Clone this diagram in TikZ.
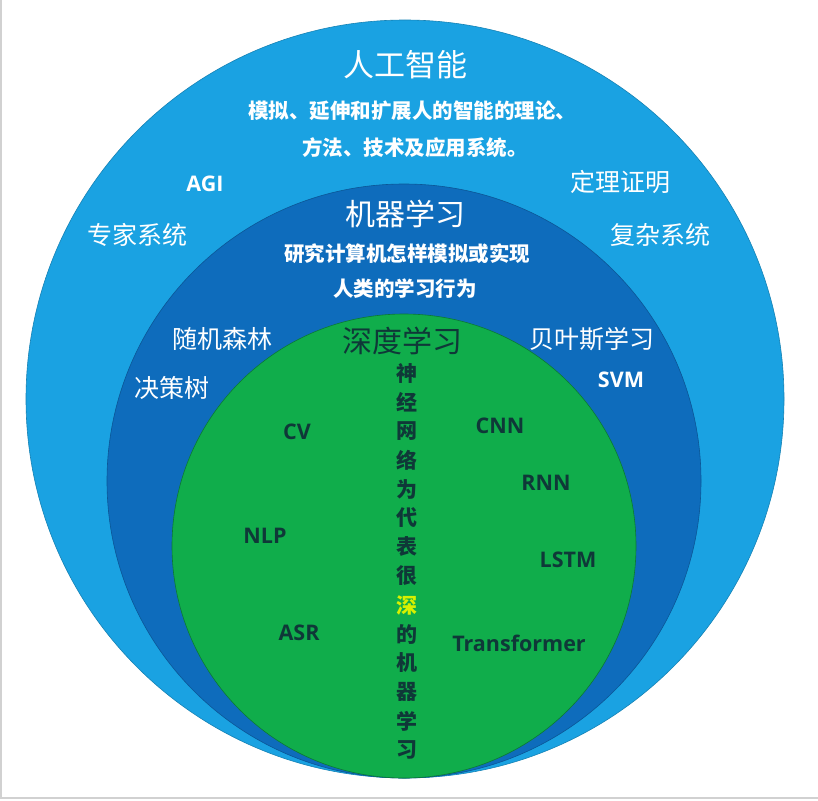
\documentclass[tikz,border=0pt]{standalone}
\usepackage{fontspec}
\newfontfamily\cjk{Noto Sans CJK SC}
\newfontfamily\latin{Open Sans}
\usetikzlibrary{backgrounds}
\definecolor{bleuclair}{HTML}{1AA2E2}
\definecolor{bleufonce}{HTML}{0E6CBC}
\definecolor{vert}{HTML}{10AD4B}
\definecolor{sombre}{HTML}{0F3838}
\definecolor{jaune}{HTML}{D8F000}
\tikzset{%
  cercle/.style={circle,inner sep=0pt,minimum size=#1},%
  titre/.style={font=\cjk\fontsize{31}{31}\selectfont,text=white},%
  phrase/.style={font=\cjk\bfseries\fontsize{20.5}{20.5}\selectfont,text=white},%
  mot/.style={font=\cjk\fontsize{25}{25}\selectfont,text=white},%
  sigle/.style={font=\latin\bfseries\fontsize{21.5}{21.5}\selectfont,text=#1},%
  sigle/.default=white,%
  colonne/.style={font=\cjk\bfseries\fontsize{21}{21}\selectfont,text=#1}%
}
\begin{document}
\begin{tikzpicture}[%
    x=1pt,y=-1pt,%
    show background rectangle,%
    tight background,%
    background rectangle/.style={fill=white}%
    ]
  \useasboundingbox (0,0) rectangle (818,800);%

  % Cadre
  \draw[black!18,line width=1.5pt] (1,0) -- (1,798) -- (818,798);%

  % Cercles
  \node[cercle=758pt,fill=bleuclair,draw=bleuclair!80!black,line width=0.6pt] (ia) at (405,399) {};%
  \node[cercle=594pt,fill=bleufonce,draw=bleufonce!80!black,line width=0.6pt] (ml) at (404,481) {};%
  \node[cercle=464pt,fill=vert,draw=vert!70!black,line width=0.6pt] (dl) at (404,546) {};%

  % Intelligence artificielle
  \node[titre] (iaT) at (405,65) {人工智能};%
  \node[phrase] (iaL1) at (412,111) {模拟、延伸和扩展人的智能的理论、};%
  \node[phrase] (iaL2) at (415,148) {方法、技术及应用系统。};%
  \node[sigle] (agi) at (205,184) {AGI};%
  \node[mot] (theo) at (620,182) {定理证明};%
  \node[mot] (expert) at (137,235) {专家系统};%
  \node[mot] (complexe) at (660,235) {复杂系统};%

  % Apprentissage automatique
  \node[titre,font=\cjk\fontsize{30}{30}\selectfont] (mlT) at (405,214) {机器学习};%
  \node[phrase] (mlL1) at (407,254) {研究计算机怎样模拟或实现};%
  \node[phrase] (mlL2) at (405,289) {人类的学习行为};%
  \node[mot] (foret) at (222,339) {随机森林};%
  \node[mot] (arbre) at (172,388) {决策树};%
  \node[mot] (bayes) at (592,339) {贝叶斯学习};%
  \node[sigle] (svm) at (621,380) {SVM};%

  % Apprentissage profond
  \node[titre,text=sombre,font=\cjk\fontsize{30}{30}\selectfont] (dlT) at (402,341) {深度学习};%
  \foreach \c/\col [count=\i] in {神/sombre,经/sombre,网/sombre,络/sombre,为/sombre,代/sombre,表/sombre,%
    很/sombre,深/jaune,的/sombre,机/sombre,器/sombre,学/sombre,习/sombre}%
    \node[colonne=\col] (v\i) at (407,{373+(\i-1)*29}) {\c};%
  \node[sigle=sombre] (cv) at (297,432) {CV};%
  \node[sigle=sombre] (nlp) at (265,536) {NLP};%
  \node[sigle=sombre] (asr) at (299,633) {ASR};%
  \node[sigle=sombre] (cnn) at (500,426) {CNN};%
  \node[sigle=sombre] (rnn) at (546,483) {RNN};%
  \node[sigle=sombre] (lstm) at (568,560) {LSTM};%
  \node[sigle=sombre] (trans) at (519,643) {Transformer};%
\end{tikzpicture}
\end{document}
